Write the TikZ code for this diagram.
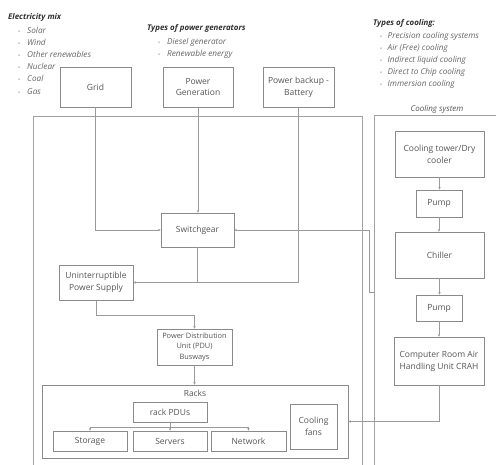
\documentclass[tikz,border=0pt]{standalone}
\usepackage{fontspec}
\setmainfont{Open Sans}
\usetikzlibrary{arrows.meta}
\definecolor{boxline}{HTML}{8A8A8A}
\definecolor{conn}{HTML}{9A9A9A}
\definecolor{txt}{HTML}{555555}
\definecolor{listtxt}{HTML}{666666}
\definecolor{headtxt}{HTML}{303030}
\newcommand{\bul}{{\fontsize{5}{5}\selectfont •}}
\tikzset{
  box/.style={draw=boxline, line width=0.6pt, fill=white, text=txt, align=center, inner sep=1pt,
    font=\fontsize{8.5}{11.8}\selectfont},
  frame/.style={draw=boxline!80, line width=0.6pt},
  arr/.style={draw=conn, line width=0.6pt, -{Stealth[length=2.6pt,width=2.4pt]}},
  ln/.style={draw=conn, line width=0.6pt},
  head/.style={anchor=base west, inner sep=0pt, text=headtxt, font=\fontsize{7.9}{9}\selectfont\bfseries\itshape},
  item/.style={anchor=base west, inner sep=0pt, text=listtxt, font=\fontsize{8.2}{9}\selectfont\itshape},
  lbl/.style={inner sep=0pt, text=txt, font=\fontsize{8.4}{10}\selectfont},
}
\begin{document}
\begin{tikzpicture}[x=1pt, y=-1pt]
\useasboundingbox[fill=white] (0,0) rectangle (496,464);

% headings and lists
\node[head] (h1) at (8,19.8) {Electricity mix};
\foreach \t [count=\i] in {Solar,Wind,Other renewables,Nuclear,Coal,Gas}
  \node[item] (em\i) at (18,{33+12.2*(\i-1)}) {\makebox[9pt][l]{\bul}\t};
\node[head] (h2) at (147,30.8) {Types of power generators};
\foreach \t [count=\i] in {Diesel generator,Renewable energy}
  \node[item] (pg\i) at (158,{44+12*(\i-1)}) {\makebox[9pt][l]{\bul}\t};
\node[head] (h3) at (373,25.8) {Types of cooling:};
\foreach \t [count=\i] in {Precision cooling systems,Air (Free) cooling,Indirect liquid cooling,Direct to Chip cooling,Immersion cooling}
  \node[item] (tc\i) at (380,{38+12*(\i-1)}) {\makebox[7.5pt][l]{\bul}\t};

% containers
\draw[frame] (33,470) -- (33,116) -- (362,116) -- (362,470);
\draw[frame] (374,470) -- (374,115) -- (500,115);
\node[lbl, font=\fontsize{8}{10}\selectfont\itshape] (cslbl) at (437,109) {Cooling system};
\coordinate (csin) at (374,292);

% power side
\node[box, minimum width=71, minimum height=40] (grid) at (95.5,87) {Grid};
\node[box, minimum width=70, minimum height=40] (gen) at (198,87) {Power\\Generation};
\node[box, minimum width=71, minimum height=40] (bat) at (298.5,87) {Power backup -\\Battery};
\node[box, minimum width=73, minimum height=34] (sw) at (197.5,230) {Switchgear};
\node[box, minimum width=74, minimum height=35] (ups) at (96,282.5) {Uninterruptible\\Power Supply};
\node[box, minimum width=75, minimum height=36, font=\fontsize{7.4}{10.5}\selectfont] (pdu) at (194.5,347) {Power Distribution\\Unit (PDU)\\Busways};

% racks
\node[draw=boxline, line width=0.6pt, minimum width=306, minimum height=73, inner sep=0pt] (racks) at (195,421.5) {};
\node[lbl] (rackslbl) at (195,393) {Racks};
\node[box, minimum width=74, minimum height=20] (rpdu) at (170,412) {rack PDUs};
\node[box, minimum width=74, minimum height=20] (sto) at (90,441) {Storage};
\node[box, minimum width=74, minimum height=20] (srv) at (170,441) {Servers};
\node[box, minimum width=75, minimum height=20] (net) at (248.5,441) {Network};
\node[box, minimum width=47, minimum height=45] (fans) at (313.5,426.5) {Cooling\\fans};

% cooling chain
\node[box, minimum width=89, minimum height=46] (tower) at (439.5,154) {Cooling tower/Dry\\cooler};
\node[box, minimum width=46, minimum height=27] (pump1) at (439,203.5) {Pump};
\node[box, minimum width=89, minimum height=46] (chill) at (439.5,255) {Chiller};
\node[box, minimum width=46, minimum height=26] (pump2) at (439,308) {Pump};
\node[box, minimum width=90, minimum height=48] (crah) at (439,361) {Computer Room Air\\Handling Unit CRAH};

% connectors
\draw[arr] (grid.south) |- (sw.west);
\draw[arr] (gen.south) -- (gen.south |- sw.north);
\draw[arr] (sw.south) |- (ups.east);
\draw[ln] (bat.south) |- (sw.south |- ups.east);
\draw[arr] (csin) -- ++(-5,0) |- (sw.east);
\draw[arr] (ups.south) -- ++(0,15) -| (pdu.north);
\draw[arr] (pdu.south) -- (pdu.south |- racks.north);
\draw[arr] (rpdu.south) -- ++(0,5) -| (sto.north);
\draw[arr] (rpdu.south) -- (srv.north);
\draw[arr] (rpdu.south) -- ++(0,5) -| (net.north);
\draw[arr] (tower.south) -- (tower.south |- pump1.north);
\draw[arr] (pump1.south) -- (pump1.south |- chill.north);
\draw[arr] (chill.south) -- (chill.south |- pump2.north);
\draw[arr] (pump2.south) -- (pump2.south |- crah.north);
\draw[arr] (crah.south) |- (racks.east);
\end{tikzpicture}
\end{document}
